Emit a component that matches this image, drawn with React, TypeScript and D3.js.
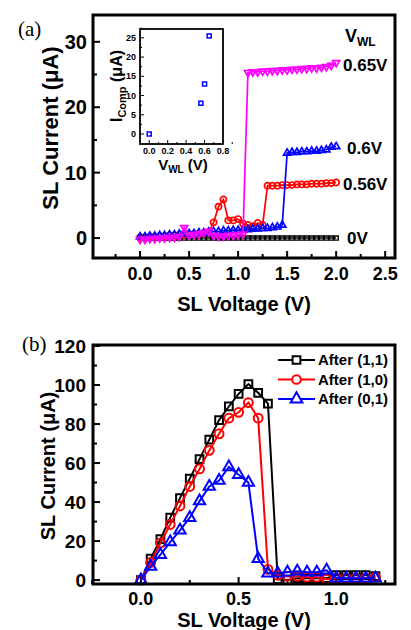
import React from "react"
import * as d3 from "d3"

// panel (a): SL sweep, one curve per word-line voltage
const sweepA = [0, 0.05, 0.1, 0.15, 0.2, 0.25, 0.3, 0.35, 0.4, 0.45, 0.5, 0.55, 0.6, 0.65, 0.7, 0.75, 0.8, 0.85, 0.9, 0.95, 1.0,
    1.05, 1.1, 1.15, 1.2, 1.25, 1.3, 1.35, 1.4, 1.45, 1.5, 1.55, 1.6, 1.65, 1.7, 1.75, 1.8, 1.85, 1.9, 1.95, 2.0]
const i0V = [0, 0, 0, 0, 0, 0, 0, 0, 0, 0, 0, 0, 0, 0, 0, 0, 0, 0, 0, 0, 0,
    0, 0, 0, 0, 0, 0, 0, 0, 0, 0, 0, 0, 0, 0, 0, 0, 0, 0, 0, 0]
const i056V = [0.1, 0.1, 0.2, 0.2, 0.3, 0.3, 0.4, 0.4, 0.5, 0.5, 0.6, 0.6, 0.7, 0.8, 0.9, 2.4, 4.8, 5.9, 2.7, 2.7, 2.9,
    2.2, 2.0, 1.8, 2.3, 2.0, 8.0, 8.0, 8.0, 8.1, 8.1, 8.1, 8.2, 8.2, 8.2, 8.3, 8.3, 8.3, 8.4, 8.4, 8.5]
const i06V = [0.2, 0.2, 0.3, 0.3, 0.4, 0.4, 0.5, 0.5, 0.6, 0.6, 0.7, 0.7, 0.8, 0.8, 0.9, 1.0, 1.0, 1.1, 1.1, 1.2, 1.2,
    1.3, 1.3, 1.4, 1.4, 1.5, 1.5, 1.6, 1.7, 2.0, 13.0, 13.1, 13.1, 13.2, 13.2, 13.3, 13.3, 13.4, 13.5, 13.9, 14.0]
const i065V = [-0.2, -0.2, -0.1, -0.1, 0, 0, 0.1, 0.1, 0.2, 1.6, 0.4, 0.5, 0.6, 0.8, 1.0, 0.4, 0.3, 0.3, 0.4, 0.4, 0.5,
    0.6, 25.3, 25.4, 25.4, 25.5, 25.5, 25.6, 25.6, 25.7, 25.7, 25.8, 25.8, 25.9, 25.9, 26.0, 26.0, 26.1, 26.2, 26.4, 26.8]

// inset: compliance current vs V_WL
const vwl = [0, 0.56, 0.6, 0.65]
const icomp = [0, 8, 13, 25.5]

// panel (b)
const sweepB = [0, 0.05, 0.1, 0.15, 0.2, 0.25, 0.3, 0.35, 0.4, 0.45, 0.5, 0.55, 0.6, 0.65, 0.7, 0.75, 0.8, 0.85, 0.9, 0.95,
    1.0, 1.05, 1.1, 1.15, 1.2]
const after11 = [0, 11, 21, 32, 42, 52, 62, 72, 82, 89, 95.5, 100.5, 96, 90.5, 0.5, 0, 1, 1, 1, 1, 2.5, 2.5, 2.5, 2.5, 2]
const after10 = [0, 9, 19, 28.5, 38, 48, 57, 66.5, 75, 83, 86, 91, 83, 5.5, 2.5, 2, 2, 1.5, 1.5, 0.5, 1, 1, 1, 1, 1.5]
const after01 = [0, 7, 13, 19.5, 25.5, 32, 40.5, 48, 51, 58, 54, 50, 11, 3.5, 3.5, 4, 4.5, 4, 4, 5, 1, 1, 1, 1, 1]
const legendB = ["After (1,1)", "After (1,0)", "After (0,1)"]

const SANS = "'Liberation Sans', Arial, sans-serif"
const SERIF = "'Liberation Serif', 'Times New Roman', serif"

const xA = d3.scaleLinear().domain([-0.48, 2.6]).range([93, 395])
const yA = d3.scaleLinear().domain([-3.05, 34.1]).range([258, 15])
const xI = d3.scaleLinear().domain([-0.1, 0.8]).range([140, 223])
const yI = d3.scaleLinear().domain([-2.6, 27.3]).range([144, 29])
const xB = d3.scaleLinear().domain([-0.245, 1.3]).range([93, 395])
const yB = d3.scaleLinear().domain([-2, 120]).range([584, 346])

type Scale = d3.ScaleLinear<number, number>

function Series({ xs, ys, x, y, color, shape, size, width, rotate }:
    { xs: number[], ys: number[], x: Scale, y: Scale, color: string, shape: d3.SymbolType, size: number, width: number, rotate?: number }) {
    const pts: [number, number][] = xs.map((v, i) => [x(v), y(ys[i])])
    const line = d3.line()
    const sym = d3.symbol().type(shape).size(size)()
    return (
        <g>
            <path d={line(pts) || ""} fill="none" stroke={color} strokeWidth={width} />
            {pts.map((p, i) => (
                <path key={i} d={sym || ""} transform={`translate(${p[0]},${p[1]})${rotate ? ` rotate(${rotate})` : ""}`}
                    fill="white" fillOpacity={0} stroke={color} strokeWidth={width} />
            ))}
        </g>
    )
}

function Frame({ x0, x1, y0, y1, w }: { x0: number, x1: number, y0: number, y1: number, w: number }) {
    return <rect x={x0} y={y0} width={x1 - x0} height={y1 - y0} fill="none" stroke="black" strokeWidth={w} />
}

export default function App() {
    const aMajorX = [0, 0.5, 1, 1.5, 2, 2.5]
    const aMinorX = [-0.25, 0.25, 0.75, 1.25, 1.75, 2.25]
    const aMajorY = [0, 10, 20, 30]
    const aMinorY = [5, 15, 25]
    const iMajorX = [0, 0.2, 0.4, 0.6, 0.8]
    const iMajorY = [0, 5, 10, 15, 20, 25]
    const bMajorX = [0, 0.5, 1]
    const bMinorX = [-0.25, 0.25, 0.75, 1.25]
    const bMajorY = [0, 20, 40, 60, 80, 100, 120]
    const bMinorY = [10, 30, 50, 70, 90, 110]

    return (
        <svg width={411} height={630} style={{ position: "absolute", left: 0, top: 0, background: "white" }}>
            {/* ---------- panel (a) ---------- */}
            <text x={18} y={36} fontFamily={SERIF} fontSize={21}>(a)</text>
            <g stroke="black" strokeWidth={2}>
                {aMajorY.map(v => <line key={"ay" + v} x1={93} x2={100} y1={yA(v)} y2={yA(v)} />)}
                {aMinorY.map(v => <line key={"ayn" + v} x1={93} x2={97} y1={yA(v)} y2={yA(v)} />)}
                {aMajorX.map(v => <line key={"ax" + v} x1={xA(v)} x2={xA(v)} y1={258} y2={251} />)}
                {aMinorX.map(v => <line key={"axn" + v} x1={xA(v)} x2={xA(v)} y1={258} y2={254} />)}
            </g>
            <g fontFamily={SANS} fontWeight="bold">
                {aMajorY.map(v => (
                    <text key={"ayl" + v} x={87} y={yA(v)} dy="0.35em" textAnchor="end" fontSize={20}>{v}</text>
                ))}
                {aMajorX.map(v => (
                    <text key={"axl" + v} x={xA(v)} y={280} textAnchor="middle" fontSize={18}>{v.toFixed(1)}</text>
                ))}
                <text x={244} y={311} textAnchor="middle" fontSize={20}>SL Voltage (V)</text>
                <text transform="translate(58,128) rotate(-90)" textAnchor="middle" fontSize={22}>SL Current (μA)</text>
            </g>

            <Series xs={sweepA} ys={i0V} x={xA} y={yA} color="black" shape={d3.symbolSquare} size={18} width={1.4} />
            <Series xs={sweepA} ys={i056V} x={xA} y={yA} color="#ff0000" shape={d3.symbolCircle} size={30} width={1.7} />
            <Series xs={sweepA} ys={i06V} x={xA} y={yA} color="#0000ff" shape={d3.symbolTriangle} size={22} width={1.7} />
            <Series xs={sweepA} ys={i065V} x={xA} y={yA} color="#ff00ff" shape={d3.symbolTriangle} size={22} width={1.7} rotate={180} />

            <g fontFamily={SANS} fontWeight="bold" fontSize={17}>
                <text x={345} y={42} fontSize={18}>V<tspan fontSize={12} dy={4}>WL</tspan></text>
                <text x={343} y={71}>0.65V</text>
                <text x={347} y={154}>0.6V</text>
                <text x={343} y={190}>0.56V</text>
                <text x={347} y={244}>0V</text>
            </g>

            {/* inset */}
            <rect x={140} y={29} width={83} height={115} fill="white" />
            <g stroke="black" strokeWidth={1}>
                {iMajorY.map(v => <line key={"iy" + v} x1={140} x2={144} y1={yI(v)} y2={yI(v)} />)}
                {iMajorY.map(v => <line key={"iyn" + v} x1={140} x2={142} y1={yI(v + 2.5)} y2={yI(v + 2.5)} />)}
                {iMajorX.map(v => <line key={"ix" + v} x1={xI(v)} x2={xI(v)} y1={144} y2={140} />)}
                {iMajorX.map(v => <line key={"ixn" + v} x1={xI(v + 0.1)} x2={xI(v + 0.1)} y1={144} y2={142} />)}
            </g>
            <Frame x0={140} x1={223} y0={29} y1={144} w={1.8} />
            <g fontFamily={SANS} fontWeight="bold" fontSize={9}>
                {iMajorY.map(v => (
                    <text key={"iyl" + v} x={136} y={yI(v)} dy="0.35em" textAnchor="end">{v}</text>
                ))}
                {iMajorX.map(v => (
                    <text key={"ixl" + v} x={xI(v)} y={154} textAnchor="middle">{v.toFixed(1)}</text>
                ))}
                <text x={183} y={170} textAnchor="middle" fontSize={15}>V<tspan fontSize={10} dy={3}>WL</tspan><tspan dy={-3}> (V)</tspan></text>
                <text transform="translate(122,86) rotate(-90)" textAnchor="middle" fontSize={16}>I<tspan fontSize={11} dy={4}>Comp</tspan><tspan dy={-4}> (μA)</tspan></text>
            </g>
            {vwl.map((v, i) => (
                <rect key={"ip" + i} x={xI(v) - 2} y={yI(icomp[i]) - 2} width={4} height={4} fill="none" stroke="#0000ff" strokeWidth={1.5} />
            ))}

            <Frame x0={93} x1={395} y0={15} y1={258} w={3} />

            {/* ---------- panel (b) ---------- */}
            <text x={22} y={351} fontFamily={SERIF} fontSize={21}>(b)</text>
            <g stroke="black" strokeWidth={2}>
                {bMajorY.map(v => <line key={"by" + v} x1={93} x2={100} y1={yB(v)} y2={yB(v)} />)}
                {bMinorY.map(v => <line key={"byn" + v} x1={93} x2={97} y1={yB(v)} y2={yB(v)} />)}
                {bMajorX.map(v => <line key={"bx" + v} x1={xB(v)} x2={xB(v)} y1={584} y2={577} />)}
                {bMinorX.map(v => <line key={"bxn" + v} x1={xB(v)} x2={xB(v)} y1={584} y2={580} />)}
            </g>
            <g fontFamily={SANS} fontWeight="bold">
                {bMajorY.map(v => (
                    <text key={"byl" + v} x={86} y={yB(v)} dy="0.35em" textAnchor="end" fontSize={19}>{v}</text>
                ))}
                {bMajorX.map(v => (
                    <text key={"bxl" + v} x={xB(v)} y={605} textAnchor="middle" fontSize={18}>{v.toFixed(1)}</text>
                ))}
                <text x={244} y={627} textAnchor="middle" fontSize={20}>SL Voltage (V)</text>
                <text transform="translate(55,466) rotate(-90)" textAnchor="middle" fontSize={20}>SL Current (μA)</text>
            </g>

            <Series xs={sweepB} ys={after11} x={xB} y={yB} color="black" shape={d3.symbolSquare} size={60} width={2} />
            <Series xs={sweepB} ys={after10} x={xB} y={yB} color="#ff0000" shape={d3.symbolCircle} size={62} width={2} />
            <Series xs={sweepB} ys={after01} x={xB} y={yB} color="#0000ff" shape={d3.symbolTriangle} size={55} width={2} />

            {/* legend */}
            {legendB.map((name, i) => {
                const color = ["black", "#ff0000", "#0000ff"][i]
                const shape = [d3.symbolSquare, d3.symbolCircle, d3.symbolTriangle][i]
                const yy = 360 + i * 19.5
                return (
                    <g key={name}>
                        <line x1={278} x2={315} y1={yy} y2={yy} stroke={color} strokeWidth={2.2} />
                        <path d={d3.symbol().type(shape).size(60)() || ""} transform={`translate(296.5,${yy})`}
                            fill="white" stroke={color} strokeWidth={2} />
                        <text x={318} y={yy} dy="0.35em" fontFamily={SANS} fontWeight="bold" fontSize={15}>{name}</text>
                    </g>
                )
            })}

            <Frame x0={93} x1={395} y0={345} y1={584} w={3} />
        </svg>
    )
}
